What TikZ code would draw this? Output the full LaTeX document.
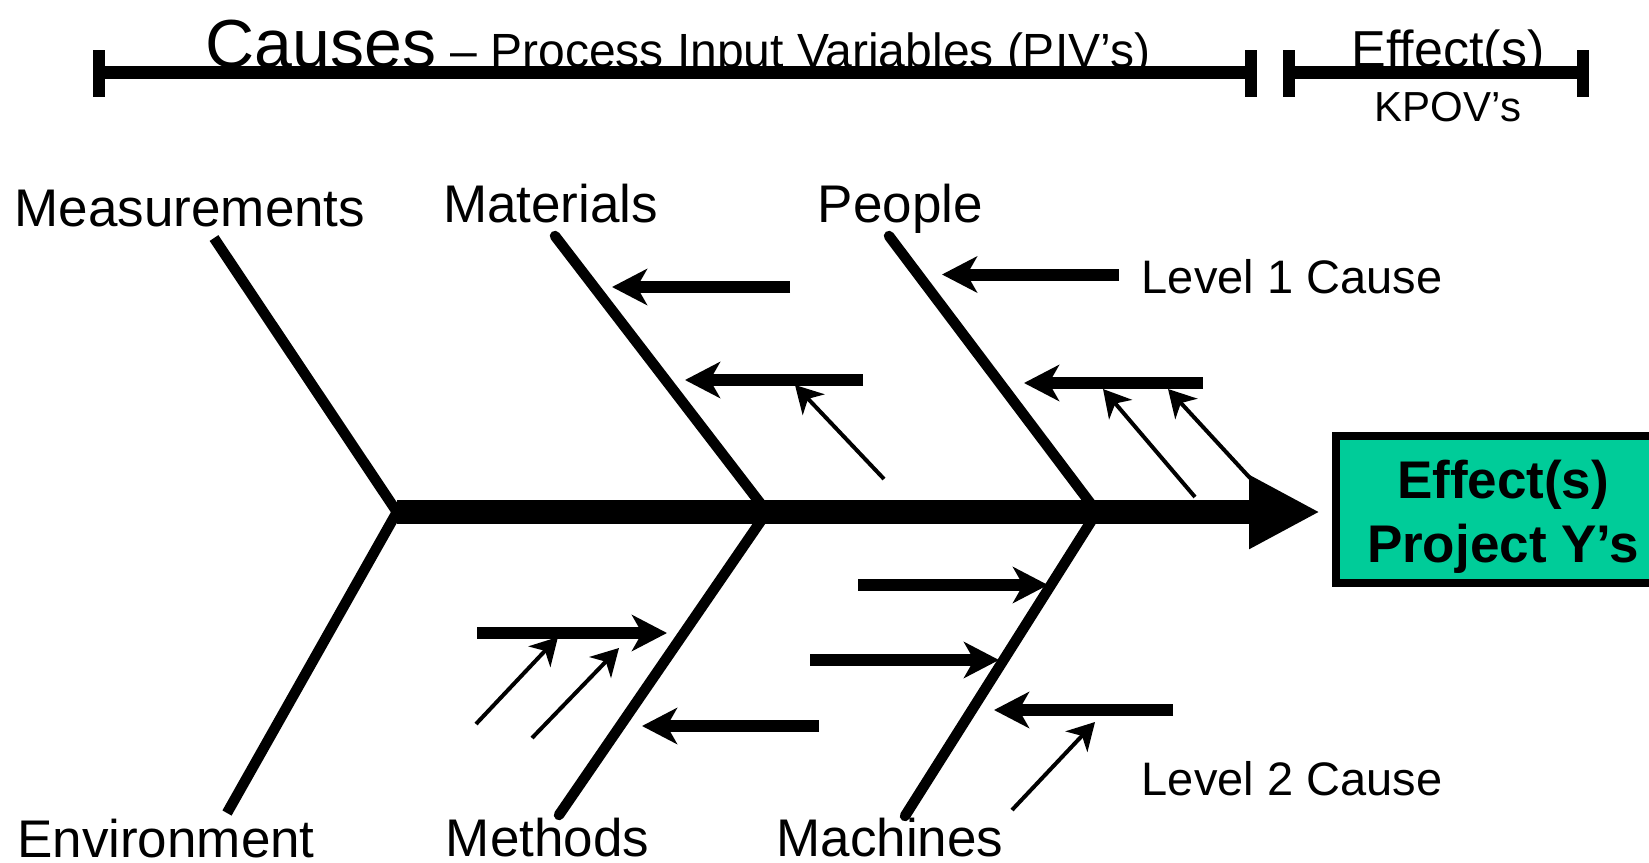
\documentclass[tikz,border=0pt]{standalone}
\usepackage{fontspec}
\setmainfont{Liberation Sans}
\usetikzlibrary{arrows.meta}
\definecolor{effgreen}{RGB}{0,204,153}
\begin{document}
\begin{tikzpicture}[x=1pt,y=-1pt,
  bone/.style={line width=10.5pt},
  spine/.style={line width=24pt,-{Triangle[length=71pt,width=69pt]}},
  lvlone/.style={line width=12pt,-{Stealth[length=35pt,width=36pt,inset=10pt]}},
  lvltwo/.style={line width=4pt,-{Stealth[length=27pt,width=30pt,inset=8pt]}},
  hbar/.style={line width=13pt},
  tickbar/.style={line width=12pt},
  lbl/.style={inner sep=0pt,anchor=base,font=\fontsize{53pt}{60pt}\selectfont},
  lvllbl/.style={inner sep=0pt,anchor=base,font=\fontsize{47pt}{54pt}\selectfont},
  efftxt/.style={inner sep=0pt,anchor=base,font=\bfseries\fontsize{53pt}{64pt}\selectfont},
  effbox/.style={draw=black,line width=8pt,fill=effgreen,inner sep=0pt}
]
\clip (0,0) rectangle (1649,862);
\fill[white] (0,0) rectangle (1649,862);

% ---------- header ----------
\coordinate (hA) at (98.8,72.3);
\coordinate (hB) at (1251,72.3);
\coordinate (hC) at (1289,72.3);
\coordinate (hD) at (1583,72.3);
\draw[hbar] (hA) -- (hB);
\draw[hbar] (hC) -- (hD);
\foreach \n in {hA,hB,hC,hD}{
  \draw[tickbar] ([yshift=22pt]\n) -- ([yshift=-25pt]\n);
}
\node[inner sep=0pt,anchor=base] (causes) at (678,67)
  {{\fontsize{68pt}{72pt}\selectfont Causes}\hspace{14pt}{\fontsize{48pt}{52pt}\selectfont – Process Input Variables (PIV’s)}};
\node[inner sep=0pt,anchor=base,font=\fontsize{52pt}{56pt}\selectfont] (effhead) at (1448,67) {Effect(s)};
\node[inner sep=0pt,anchor=base,font=\fontsize{42pt}{46pt}\selectfont] (kpov) at (1448,121) {KPOV’s};

% ---------- effect box ----------
\node[effbox,minimum width=334pt,minimum height=147pt] (effbox) at (1503,509.5) {};
\node[efftxt] (eff1) at (1503,498) {Effect(s)};
\node[efftxt] (eff2) at (1503,562) {Project Y’s};

% ---------- skeleton ----------
\coordinate (J0) at (397,512);
\coordinate (J1) at (767,512);
\coordinate (J2) at (1097,512);
\coordinate (Tip) at (1320,512);
\coordinate (MeasTop) at (214,238);
\coordinate (EnvBot) at (227,813);
\coordinate (MatTop) at (555,236);
\coordinate (MethBot) at (559,815);
\coordinate (PeoTop) at (889,236);
\coordinate (MachBot) at (905,816);

\draw[bone,line join=round] (MeasTop) -- (J0) -- (EnvBot);
\draw[bone,line join=round,line cap=round] (MatTop) -- (J1) -- (MethBot);
\draw[bone,line join=round,line cap=round] (PeoTop) -- (J2) -- (MachBot);
\draw[spine] (J0) -- (Tip);

% ---------- level 1 arrows ----------
\coordinate (m1s) at (790,287);   \coordinate (m1t) at (612,287);
\coordinate (m2s) at (863,380);   \coordinate (m2t) at (685,380);
\coordinate (p1s) at (1119,274.5);\coordinate (p1t) at (942,274.5);
\coordinate (p2s) at (1203,383);  \coordinate (p2t) at (1024,383);
\coordinate (as) at (477,633);    \coordinate (at) at (667,633);
\coordinate (bs) at (819,726);    \coordinate (bt) at (642,726);
\coordinate (cs) at (858,585);    \coordinate (ct) at (1048,585);
\coordinate (ds) at (810,660);    \coordinate (dt) at (999,660);
\coordinate (es) at (1173,710);   \coordinate (et) at (994,710);
\foreach \a in {m1,m2,p1,p2,a,b,c,d,e}{
  \draw[lvlone] (\a s) -- (\a t);
}

% ---------- level 2 arrows ----------
\coordinate (q1s) at (884,479);  \coordinate (q1t) at (795,385);
\coordinate (q2s) at (1195,497); \coordinate (q2t) at (1103,389);
\coordinate (q3s) at (1250,478); \coordinate (q3t) at (1168,389);
\coordinate (q4s) at (476,724);  \coordinate (q4t) at (558,637);
\coordinate (q5s) at (532,738);  \coordinate (q5t) at (619,648);
\coordinate (q6s) at (1012,810); \coordinate (q6t) at (1095,722);
\foreach \a in {q1,q2,q3,q4,q5,q6}{
  \draw[lvltwo] (\a s) -- (\a t);
}

% ---------- labels ----------
\node[lbl] (meas) at (190,226) {Measurements};
\node[lbl] (mat) at (550.5,222) {Materials};
\node[lbl] (peo) at (900.5,222) {People};
\node[lbl] (env) at (166,857) {Environment};
\node[lbl] (meth) at (547.5,856) {Methods};
\node[lbl] (mach) at (890,856) {Machines};
\node[lvllbl] (lv1) at (1292,293) {Level 1 Cause};
\node[lvllbl] (lv2) at (1292,795) {Level 2 Cause};
\end{tikzpicture}
\end{document}
